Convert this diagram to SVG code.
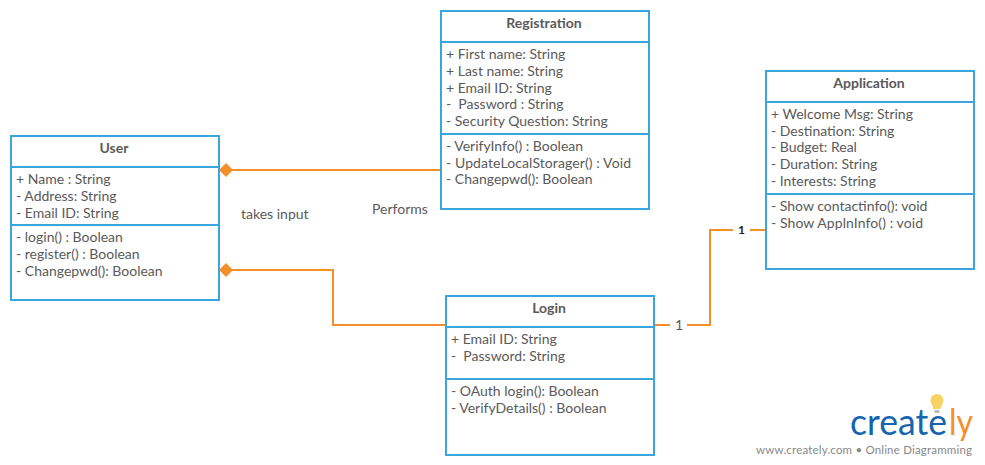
<svg xmlns="http://www.w3.org/2000/svg" width="985" height="465" viewBox="0 0 985 465">
<style>
.box{fill:#fff;stroke:#3aa6e0;stroke-width:2}
.div{stroke:#3aa6e0;stroke-width:2;fill:none}
.c{stroke:#f58f2a;stroke-width:2;fill:none}
.d{fill:#f58f2a}
text{font-family:Lato,"Liberation Sans",sans-serif;font-size:14px;fill:#5a5a5a}
.t{font-weight:700;text-anchor:middle;font-size:14px}
</style>
<rect width="985" height="465" fill="#fff"/>
<g id="connectors">
<path class="c" d="M226 170H441"/>
<path class="d" d="M219 170l7-7 7 7-7 7z"/>
<path class="c" d="M226 270H333V325H446"/>
<path class="d" d="M219 270l7-7 7 7-7 7z"/>
<path class="c" d="M654 325H670M687 325H710V230H733M750 230H766"/>
<text x="675" y="330">1</text>
<text x="738" y="234" style="fill:#222;font-size:12px;font-weight:700">1</text>
</g>
<text x="241" y="219">takes input</text>
<text x="372" y="214">Performs</text>
<g id="user">
<rect class="box" x="11" y="136" width="208" height="164"/>
<path class="div" d="M11 167H219M11 225H219"/>
<text class="t" x="114" y="153">User</text>
<text x="16" y="184">+ Name : String</text>
<text x="16" y="201">- Address: String</text>
<text x="16" y="218">- Email ID: String</text>
<text x="16" y="242">- login() : Boolean</text>
<text x="16" y="259">- register() : Boolean</text>
<text x="16" y="276">- Changepwd(): Boolean</text>
</g>
<g id="registration">
<rect class="box" x="441" y="11" width="208" height="198"/>
<path class="div" d="M441 42H649M441 134H649"/>
<text class="t" x="544" y="28">Registration</text>
<text x="446" y="59">+ First name: String</text>
<text x="446" y="76">+ Last name: String</text>
<text x="446" y="93">+ Email ID: String</text>
<text x="446" y="109" xml:space="preserve">-  Password : String</text>
<text x="446" y="126">- Security Question: String</text>
<text x="446" y="151">- VerifyInfo() : Boolean</text>
<text x="446" y="168" textLength="185">- UpdateLocalStorager() : Void</text>
<text x="446" y="184">- Changepwd(): Boolean</text>
</g>
<g id="login">
<rect class="box" x="446" y="296" width="208" height="159"/>
<path class="div" d="M446 327H654M446 379H654"/>
<text class="t" x="549" y="313">Login</text>
<text x="451" y="344">+ Email ID: String</text>
<text x="451" y="361" xml:space="preserve">-  Password: String</text>
<text x="451" y="396">- OAuth login(): Boolean</text>
<text x="451" y="413">- VerifyDetails() : Boolean</text>
</g>
<g id="application">
<rect class="box" x="766" y="71" width="208" height="198"/>
<path class="div" d="M766 102H974M766 194H974"/>
<text class="t" x="869" y="88">Application</text>
<text x="771" y="119">+ Welcome Msg: String</text>
<text x="771" y="136">- Destination: String</text>
<text x="771" y="152">- Budget: Real</text>
<text x="771" y="169">- Duration: String</text>
<text x="771" y="186">- Interests: String</text>
<text x="771" y="211">- Show contactinfo(): void</text>
<text x="771" y="228" textLength="152">- Show ApplnInfo() : void</text>
</g>
<g id="logo">
<path d="M937 394c-4 0-6.500 3-6.500 6.500 0 3 2.500 5 3 8.500h7c.5-3.500 3-5.500 3-8.500 0-3.500-2.500-6.500-6.500-6.500z" fill="#f7d366"/>
<path d="M934.500 410h5v3h-5z" fill="#bbb"/>
<text x="850" y="435" textLength="97" lengthAdjust="spacingAndGlyphs" style="font-size:36px;fill:#1565ae">create</text>
<text x="949" y="435" textLength="24" lengthAdjust="spacingAndGlyphs" style="font-size:36px;fill:#f58f2a">ly</text>
<text x="756" y="454" textLength="216" style="font-size:11.500px;fill:#888">www.creately.com • Online Diagramming</text>
</g>
</svg>
